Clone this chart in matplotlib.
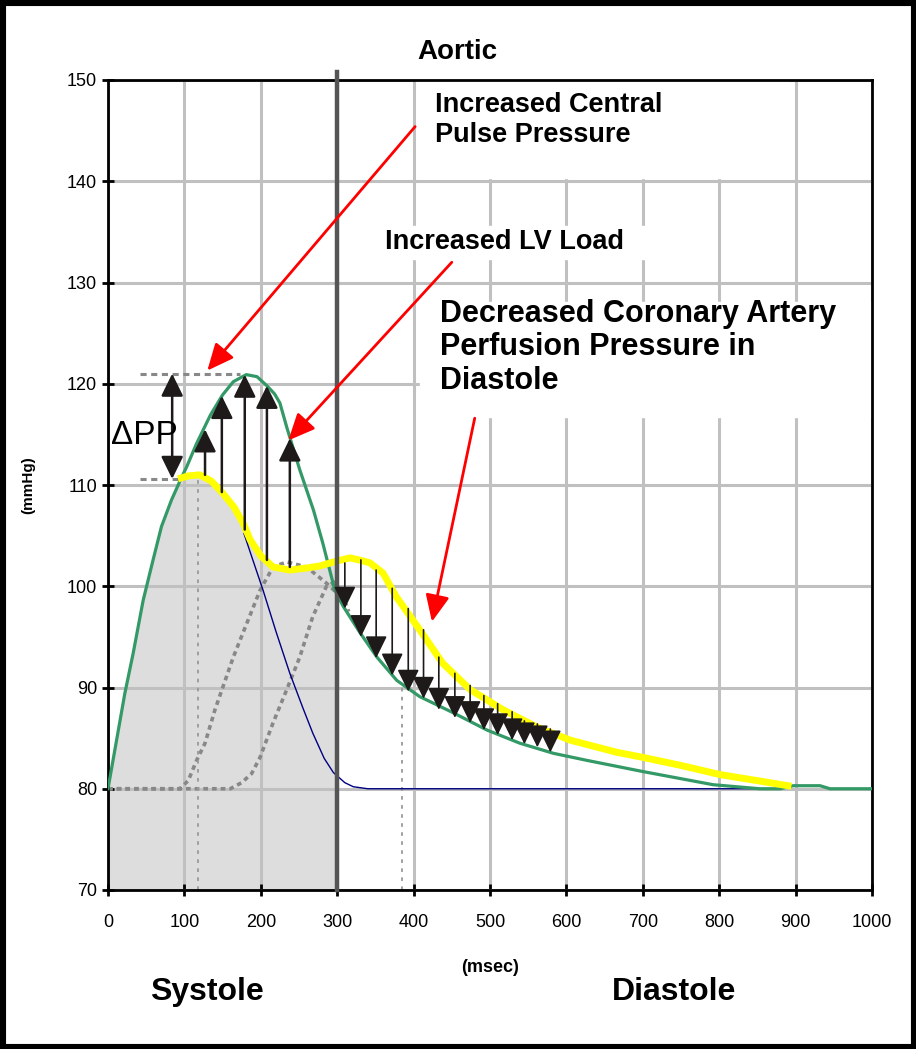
import matplotlib.pyplot as plt
from matplotlib.patches import Rectangle

plt.rcParams['font.family'] = ['Liberation Sans', 'DejaVu Sans']

# pression aortique "rigide" (courbe verte)
t_green = [0, 22, 33, 46, 59, 70, 83, 96, 103, 116, 134, 150, 164, 181, 195, 208, 218, 225, 234, 251,
           269, 281, 297, 308, 330, 352, 378, 408, 452, 496, 539, 583, 627, 700, 792, 853, 880, 897,
           932, 945, 1000]
p_green = [80, 89.4, 93.4, 98.6, 102.6, 105.9, 108.5, 110.7, 111.8, 114.1, 116.9, 118.9, 120.2, 120.9,
           120.7, 119.8, 119, 118.1, 115.7, 111.5, 107.5, 104.3, 99.6, 98, 95.4, 93, 90.7, 89.1, 87.5,
           85.8, 84.5, 83.5, 82.8, 81.7, 80.4, 80, 80, 80.3, 80.3, 80, 80]

# pression aortique normale (courbe jaune)
t_yellow = [96, 105, 120, 135, 150, 165, 177, 186, 200, 216, 238, 260, 277, 300, 317, 334, 343, 360,
            377, 408, 438, 474, 517, 561, 605, 666, 700, 750, 801, 850, 890]
p_yellow = [110.7, 110.9, 111, 110.4, 109.2, 107.8, 106.2, 104.6, 103, 101.9, 101.6, 101.8, 102,
            102.5, 102.8, 102.5, 102.3, 101.3, 99, 95.7, 92.4, 89.8, 87.8, 86.1, 84.8, 83.6, 83.1,
            82.3, 81.4, 80.8, 80.3]

# onde incidente (bleu)
t_blue = [178, 190, 203, 220, 238, 255, 268, 283, 295, 310, 321, 340, 853]
p_blue = [105.2, 102.5, 99.6, 95.5, 91.4, 88, 85.5, 83, 81.6, 80.6, 80.2, 80, 80]

# ondes reflechies (pointilles gris)
t_refl1 = [0, 94, 105, 116, 127, 140, 164, 182, 199, 216, 234, 260, 286, 300, 310]
p_refl1 = [80, 80, 80.8, 82.8, 84.5, 87.8, 93, 96.4, 99.6, 101.9, 102.4, 101.9, 100.3, 99.3, 98]
t_refl2 = [0, 160, 175, 188, 199, 216, 234, 251, 268, 286, 296, 305, 315]
p_refl2 = [80, 80, 80.6, 81.5, 83.1, 86.5, 89.8, 93, 97, 100, 100.4, 99.5, 97.5]

# fleches systole (vers le haut)
up_x = [127, 149, 179, 208, 238]
up_base = [111, 109.3, 105.6, 102.6, 101.9]
up_tip = [115.5, 118.8, 120.9, 119.8, 114.6]

# fleches diastole (vers le bas)
down_x = [310, 331, 351, 372, 393, 413, 433, 454, 474, 492, 510, 529, 545, 562, 579]
down_top = [102.3, 102.6, 101.6, 99.8, 97.8, 95.7, 93, 91.4, 90.2, 89.2, 88.4, 87.6, 86.7, 86.4, 85.9]
down_tip = [97.8, 95, 92.9, 91.2, 89.6, 88.9, 87.8, 87, 86.5, 85.8, 85.3, 84.8, 84.4, 84.1, 83.6]

pp_low, pp_high = 110.6, 121
x_ticks = list(range(0, 1001, 100))
y_ticks = list(range(70, 151, 10))

fig = plt.figure(figsize=(9.16, 10.49), dpi=100)
ax = fig.add_axes([108/916, 1-890/1049, 764/916, 810/1049])
ax.set_xlim(0, 1000)
ax.set_ylim(70, 150)
ax.set_xticks(x_ticks)
ax.set_yticks(y_ticks)
ax.grid(color='#c0c0c0', lw=2.2)
ax.set_axisbelow(True)
for s in ax.spines.values():
    s.set_linewidth(2)
ax.tick_params(direction='inout', length=8, width=2, labelsize=13)
ax.tick_params(axis='x', pad=13)
ax.tick_params(axis='y', pad=4)

# zone systole grisee sous la courbe normale
fx = [t for t in t_green if t < 96] + [t for t in t_yellow if t <= 300]
fy = [p for t, p in zip(t_green, p_green) if t < 96] + [p for t, p in zip(t_yellow, p_yellow) if t <= 300]
ax.fill_between(fx, 70, fy, color='#dddddd', lw=0, zorder=0.2)

# caches blancs derriere les textes
ax.add_patch(Rectangle((405, 140.3), 485, 9.7, color='white', zorder=0.8))
ax.add_patch(Rectangle((355, 132.3), 405, 3.3, color='white', zorder=0.8))
ax.add_patch(Rectangle((408, 116.7), 592, 11.4, color='white', zorder=0.8))

dots = (0, (1.3, 1.1))
ax.plot(t_refl1, p_refl1, color='#888888', lw=2.6, ls=dots, zorder=2)
ax.plot(t_refl2, p_refl2, color='#888888', lw=2.6, ls=dots, zorder=2)
ax.plot([118, 118], [70, 110.8], color='#999999', lw=1.3, ls=(0, (2, 3)), zorder=2)
ax.plot([385, 385], [70, 90.2], color='#999999', lw=1.3, ls=(0, (2, 3)), zorder=2)
ax.plot(t_blue, p_blue, color='#000080', lw=1, zorder=3)
ax.plot(t_green, p_green, color='#339966', lw=2.3, zorder=4)
ax.plot(t_yellow, p_yellow, color='#ffff00', lw=5, zorder=5)

ax.plot([300, 300], [70, 150.8], color='#555555', lw=3.2, clip_on=False, zorder=6)

head = '-|>,head_length=0.55,head_width=0.27'
for x, b, t in zip(up_x, up_base, up_tip):
    ax.annotate('', xy=(x, t), xytext=(x, b),
                arrowprops=dict(arrowstyle=head, color='#1e1a1a', lw=1.8, mutation_scale=25,
                                shrinkA=0, shrinkB=0), zorder=7)
for x, b, t in zip(down_x, down_top, down_tip):
    ax.annotate('', xy=(x, t), xytext=(x, b),
                arrowprops=dict(arrowstyle=head, color='#1e1a1a', lw=1.2, mutation_scale=25,
                                shrinkA=0, shrinkB=0), zorder=7)

# Delta PP
ax.plot([42, 173], [pp_high, pp_high], color='#888888', lw=2.2, ls=(0, (2, 1.5)), zorder=3)
ax.plot([42, 98], [pp_low, pp_low], color='#888888', lw=2.2, ls=(0, (2, 1.5)), zorder=3)
ax.annotate('', xy=(84, pp_high), xytext=(84, pp_low),
            arrowprops=dict(arrowstyle='<|-|>,head_length=0.55,head_width=0.27', color='#1e1a1a',
                            lw=1.8, mutation_scale=25, shrinkA=0, shrinkB=0), zorder=7)
ax.text(4, 114.9, 'ΔPP', fontsize=24, va='center', ha='left', zorder=8)

# fleches rouges
red = dict(arrowstyle='-|>,head_length=0.6,head_width=0.27', color='red', lw=2,
           mutation_scale=27, shrinkA=0, shrinkB=0)
ax.annotate('', xy=(130, 121.3), xytext=(402, 145.4), arrowprops=red, zorder=8)
ax.annotate('', xy=(236, 114.4), xytext=(450, 132), arrowprops=red, zorder=8)
ax.annotate('', xy=(424, 96.5), xytext=(480, 116.6), arrowprops=red, zorder=8)

ax.text(428, 148.8, 'Increased Central\nPulse Pressure', fontsize=19.5, fontweight='bold',
        va='top', ha='left', linespacing=1.2, zorder=9)
ax.text(362, 134, 'Increased LV Load', fontsize=19.5, fontweight='bold', va='center', ha='left', zorder=9)
ax.text(434, 128.4, 'Decreased Coronary Artery\nPerfusion Pressure in\nDiastole', fontsize=22,
        fontweight='bold', va='top', ha='left', linespacing=1.15, zorder=9)

ax.text(457, 152.8, 'Aortic', fontsize=20, fontweight='bold', ha='center', va='center', clip_on=False)
ax.text(130, 59.9, 'Systole', fontsize=23, fontweight='bold', ha='center', va='center', clip_on=False)
ax.text(741, 59.9, 'Diastole', fontsize=23, fontweight='bold', ha='center', va='center', clip_on=False)
ax.text(500, 62.3, '(msec)', fontsize=13, fontweight='bold', ha='center', va='center', clip_on=False)
fig.text(28/916, 1-485/1049, '(mmHg)', fontsize=11, fontweight='bold', rotation=90,
         ha='center', va='center')

fig.add_artist(Rectangle((0, 0), 1, 1, transform=fig.transFigure, fill=False, ec='black', lw=8))

fig.savefig('out.png', dpi=100)
